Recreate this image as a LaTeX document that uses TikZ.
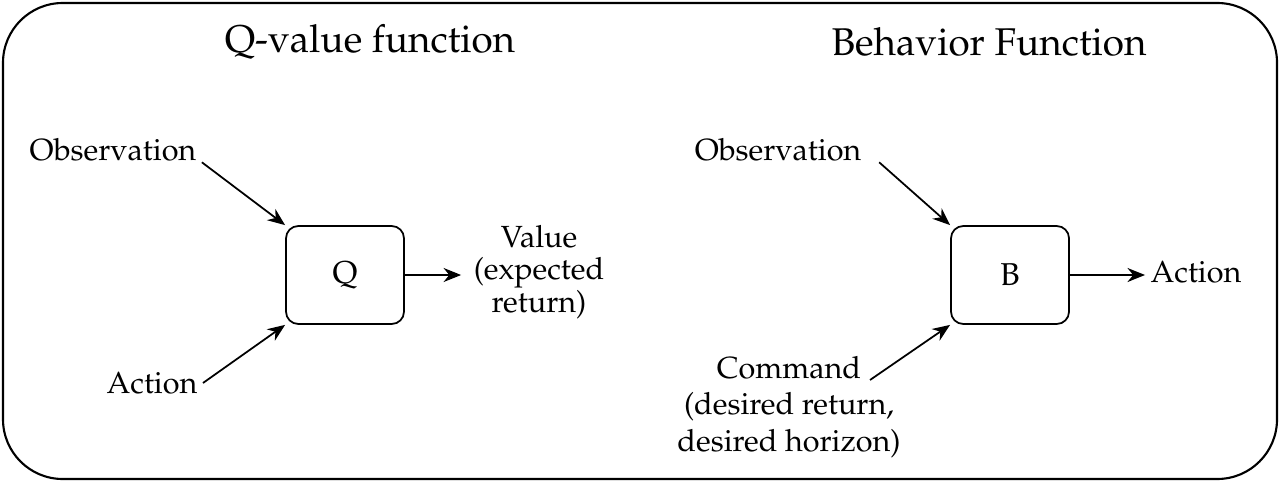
\documentclass[tikz,border=0pt]{standalone}
\usepackage[T1]{fontenc}
\usepackage{mathpazo}
\usetikzlibrary{arrows.meta}
\begin{document}
\begin{tikzpicture}[x=0.02cm,y=-0.02cm,
  lbl/.style={inner sep=0pt,font=\fontsize{17.4}{18.7}\selectfont,align=center},
  ttl/.style={inner sep=0pt,font=\fontsize{22}{26}\selectfont},
  fbox/.style={draw,line width=1pt,rounded corners=7pt,minimum width=118*0.02cm,minimum height=98*0.02cm,inner sep=0pt,font=\fontsize{18}{20}\selectfont},
  arr/.style={line width=1pt,-{Stealth[length=10pt,width=8pt]}}]
\useasboundingbox (0,0) rectangle (1280,483);
\draw[line width=1.2pt,rounded corners=34pt] (3,3) rectangle (1277,479);
% left
\node[ttl] (t1) at (370,42) {Q-value function};
\node[fbox] (Q) at (345,275) {Q};
\node[lbl] (obs1) at (113,150) {Observation};
\node[lbl] (act1) at (152,383) {Action};
\node[lbl,font=\fontsize{17.4}{18.7}\selectfont] (val) at (539,272) {Value\\(expected\\return)};
\draw[arr] ([xshift=3pt,yshift=-7pt]obs1.east) -- (Q.north west);
\draw[arr] ([xshift=3pt,yshift=0pt]act1.east) -- (Q.south west);
\draw[arr] (Q.east) -- ([xshift=-7pt]val.west |- Q.east);
% right
\node[ttl] (t2) at (989,42) {Behavior Function};
\node[fbox] (B) at (1010,275) {B};
\node[lbl] (obs2) at (778,150) {Observation};
\node[lbl,font=\fontsize{17.4}{20.7}\selectfont] (cmd) at (789,407) {Command\\(desired return,\\desired horizon)};
\node[lbl] (act2) at (1196,272) {Action};
\draw[arr] ([xshift=10pt,yshift=-7pt]obs2.east) -- (B.north west);
\coordinate (cmdst) at (870,380);
\draw[arr] (cmdst) -- (B.south west);
\draw[arr] (B.east) -- ([xshift=-3pt]act2.west |- B.east);
\end{tikzpicture}
\end{document}
